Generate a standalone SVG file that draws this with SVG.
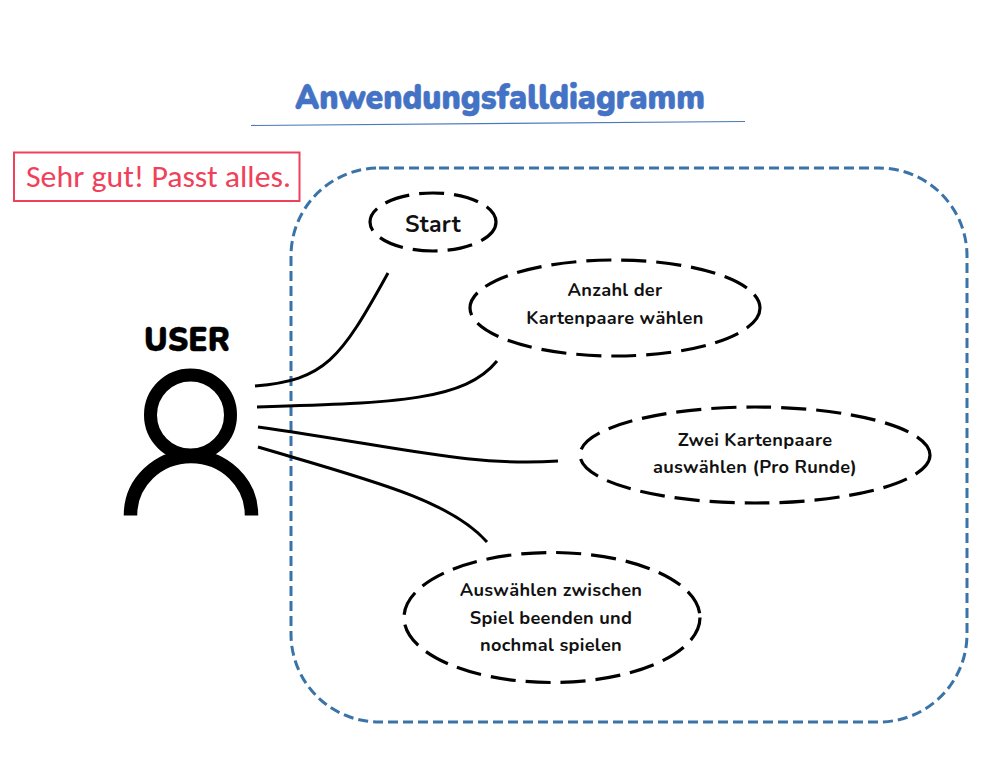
<svg xmlns="http://www.w3.org/2000/svg" width="1007" height="775" viewBox="0 0 1007 775">
<style>
.uc{fill:none;stroke:#000;stroke-width:3.2;stroke-dasharray:25 10}
.ln{fill:none;stroke:#000;stroke-width:3}
.t{font-family:"Nunito","Lato","Open Sans",sans-serif;font-weight:700;font-size:18.200px;fill:#111;text-anchor:middle;letter-spacing:.3px}
</style>
<rect width="1007" height="775" fill="#fff"/>
<g id="title">
<text x="500" y="109" font-family="Nunito,Lato,'Open Sans',sans-serif" font-weight="900" font-size="35" fill="#4472c4" stroke="#4472c4" stroke-width=".5" text-anchor="middle" textLength="410" lengthAdjust="spacingAndGlyphs">Anwendungsfalldiagramm</text>
<path d="M251 125.500L745 121.500" stroke="#4a7ab8" stroke-width="1.200" fill="none"/>
</g>
<g id="comment">
<rect x="14" y="152.500" width="285.500" height="48.500" fill="#fff" stroke="#f0415a" stroke-width="2"/>
<text x="26" y="187" font-family="Carlito,'Open Sans','Noto Sans',sans-serif" font-size="30" fill="#f0415a" textLength="265" lengthAdjust="spacingAndGlyphs">Sehr gut! Passt alles.</text>
</g>
<g id="system"><rect x="291" y="168" width="676" height="554" rx="88" ry="88" fill="none" stroke="#3a73a8" stroke-width="3" stroke-dasharray="10 5"/></g>
<g id="connectors">
<path class="ln" d="M255 386C325 380 340 360 388 273"/>
<path class="ln" d="M257 407C400 403 465 400 497 361"/>
<path class="ln" d="M258 427C400 447 470 467 558 461"/>
<path class="ln" d="M258 447C370 480 450 500 487 542"/>
</g>
<g id="actor">
<text x="187" y="351" font-family="Nunito,Lato,'Open Sans',sans-serif" font-weight="900" font-size="33" fill="#000" stroke="#000" stroke-width=".3" text-anchor="middle" textLength="86" lengthAdjust="spacingAndGlyphs">USER</text>
<circle cx="190.500" cy="415" r="40" fill="none" stroke="#000" stroke-width="13"/>
<path d="M130.500 515.500V515A60.500 58.500 0 0 1 251.500 515V515.500" fill="none" stroke="#000" stroke-width="13.500"/>
</g>
<g id="uc-start"><ellipse class="uc" cx="433" cy="222" rx="63" ry="29"/><text class="t" x="433" y="232" style="font-size:23px">Start</text></g>
<g id="uc-anzahl"><ellipse class="uc" cx="615" cy="308" rx="145" ry="48"/><text class="t" x="615" y="296">Anzahl der</text><text class="t" x="615" y="324">Kartenpaare wählen</text></g>
<g id="uc-zwei"><ellipse class="uc" cx="755" cy="455" rx="175" ry="48"/><text class="t" x="755" y="446">Zwei Kartenpaare</text><text class="t" x="755" y="473">auswählen (Pro Runde)</text></g>
<g id="uc-auswahl"><ellipse class="uc" cx="552" cy="617.500" rx="148" ry="65"/><text class="t" x="551" y="596">Auswählen zwischen</text><text class="t" x="551" y="624">Spiel beenden und</text><text class="t" x="551" y="651">nochmal spielen</text></g>
</svg>
